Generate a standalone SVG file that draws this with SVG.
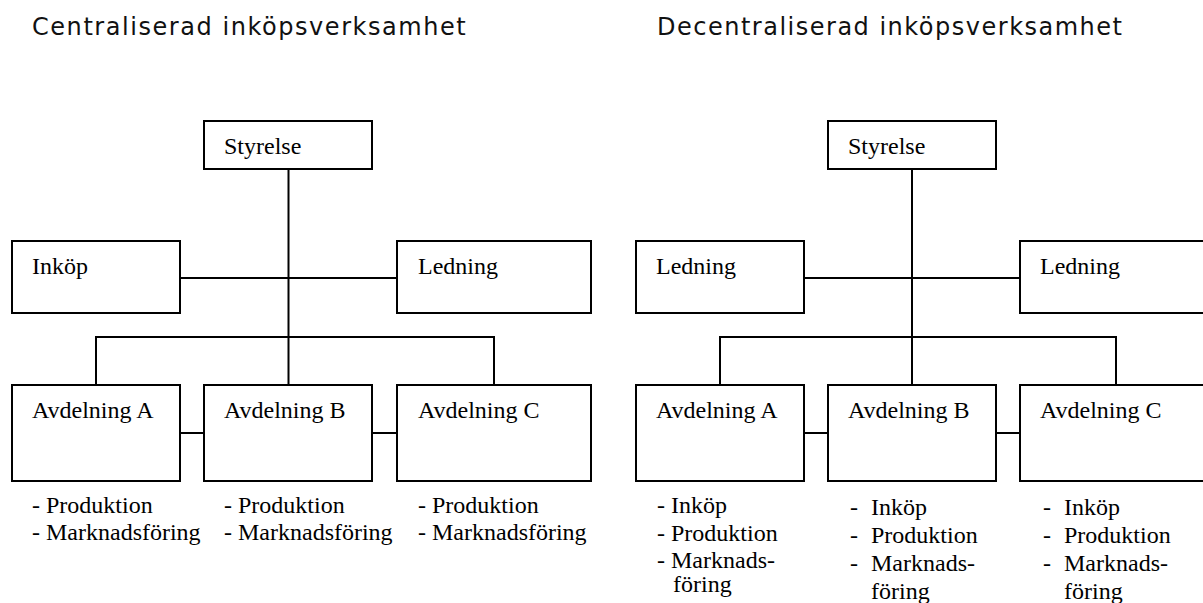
<svg xmlns="http://www.w3.org/2000/svg" width="1203" height="603" viewBox="0 0 1203 603">
  <style>
    .box { fill: #fff; stroke: #000; stroke-width: 2; }
    .lbl { font-family: "Liberation Serif", "Times New Roman", serif; font-size: 24px; fill: #000; }
    .ttl { font-family: "DejaVu Sans", Verdana, sans-serif; font-size: 24px; fill: #111; }
    .wire { stroke: #000; stroke-width: 2; fill: none; }
  </style>
  <rect width="1203" height="603" fill="#fff"/>

  <!-- titles -->
  <text class="ttl" x="32" y="35" letter-spacing="1.55">Centraliserad inköpsverksamhet</text>
  <text class="ttl" x="657" y="35" letter-spacing="1.5">Decentraliserad inköpsverksamhet</text>

  <!-- connectors -->
  <g id="connectors" class="wire">
    <!-- centralised -->
    <path d="M288.5 169 V385"/>
    <path d="M180 278 H397"/>
    <path d="M96 385 V337 H494 V385"/>
    <path d="M180 433 H204"/>
    <path d="M372 433 H397"/>
    <!-- decentralised -->
    <path d="M912 169 V385"/>
    <path d="M804 278 H1020"/>
    <path d="M720 385 V337 H1116 V385"/>
    <path d="M804 433 H828"/>
    <path d="M996 433 H1020"/>
  </g>

  <!-- centralised organisation -->
  <g id="c-styrelse"><rect class="box" x="204" y="121" width="168" height="48"/><text class="lbl" x="224" y="154">Styrelse</text></g>
  <g id="c-inkop"><rect class="box" x="12" y="241" width="168" height="72"/><text class="lbl" x="32" y="274">Inköp</text></g>
  <g id="c-ledning"><rect class="box" x="397" y="241" width="194" height="72"/><text class="lbl" x="418" y="274">Ledning</text></g>
  <g id="c-avd-a">
    <rect class="box" x="12" y="385" width="168" height="96"/><text class="lbl" x="32" y="418">Avdelning A</text>
    <text class="lbl" x="32" y="513">- Produktion</text>
    <text class="lbl" x="32" y="540">- Marknadsföring</text>
  </g>
  <g id="c-avd-b">
    <rect class="box" x="204" y="385" width="168" height="96"/><text class="lbl" x="224" y="418">Avdelning B</text>
    <text class="lbl" x="224" y="513">- Produktion</text>
    <text class="lbl" x="224" y="540">- Marknadsföring</text>
  </g>
  <g id="c-avd-c">
    <rect class="box" x="397" y="385" width="194" height="96"/><text class="lbl" x="418" y="418">Avdelning C</text>
    <text class="lbl" x="418" y="513">- Produktion</text>
    <text class="lbl" x="418" y="540">- Marknadsföring</text>
  </g>

  <!-- decentralised organisation -->
  <g id="d-styrelse"><rect class="box" x="828" y="121" width="168" height="48"/><text class="lbl" x="848" y="154">Styrelse</text></g>
  <g id="d-ledning-1"><rect class="box" x="636" y="241" width="168" height="72"/><text class="lbl" x="656" y="274">Ledning</text></g>
  <g id="d-ledning-2"><rect class="box" x="1020" y="241" width="194" height="72"/><text class="lbl" x="1040" y="274">Ledning</text></g>
  <g id="d-avd-a">
    <rect class="box" x="636" y="385" width="168" height="96"/><text class="lbl" x="656" y="418">Avdelning A</text>
    <text class="lbl" x="657" y="513">- Inköp</text>
    <text class="lbl" x="657" y="541">- Produktion</text>
    <text class="lbl" x="657" y="568">- Marknads-</text>
    <text class="lbl" x="673" y="592">föring</text>
  </g>
  <g id="d-avd-b">
    <rect class="box" x="828" y="385" width="168" height="96"/><text class="lbl" x="848" y="418">Avdelning B</text>
    <text class="lbl" x="850" y="515">-</text><text class="lbl" x="871" y="515">Inköp</text>
    <text class="lbl" x="850" y="543">-</text><text class="lbl" x="871" y="543">Produktion</text>
    <text class="lbl" x="850" y="571">-</text><text class="lbl" x="871" y="571">Marknads-</text>
    <text class="lbl" x="871" y="599">föring</text>
  </g>
  <g id="d-avd-c">
    <rect class="box" x="1020" y="385" width="194" height="96"/><text class="lbl" x="1040" y="418">Avdelning C</text>
    <text class="lbl" x="1043" y="515">-</text><text class="lbl" x="1064" y="515">Inköp</text>
    <text class="lbl" x="1043" y="543">-</text><text class="lbl" x="1064" y="543">Produktion</text>
    <text class="lbl" x="1043" y="571">-</text><text class="lbl" x="1064" y="571">Marknads-</text>
    <text class="lbl" x="1064" y="599">föring</text>
  </g>
</svg>
